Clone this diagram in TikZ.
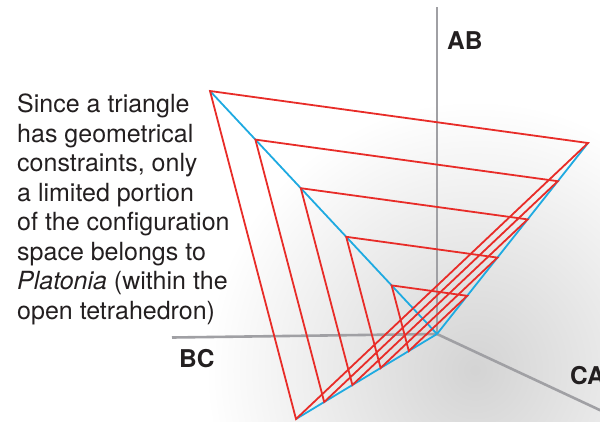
\documentclass[tikz,border=0pt]{standalone}
\usepackage{fontspec}
\setmainfont{TeX Gyre Heros}
\usetikzlibrary{calc}
\definecolor{redl}{RGB}{232,44,40}
\definecolor{bluel}{RGB}{30,170,225}
\definecolor{axisg}{RGB}{160,160,164}
\definecolor{txt}{RGB}{35,31,32}
\begin{document}
\begin{tikzpicture}[x=1pt,y=-1pt,
  axisline/.style={draw=axisg,line width=2.6pt},
  edgeline/.style={draw=bluel,line width=1.8pt},
  triline/.style={draw=redl,line width=1.8pt,line join=miter},
  axlabel/.style={text=txt,font=\fontsize{24.5}{28}\selectfont\bfseries,inner sep=0pt,anchor=base west}]
\useasboundingbox (0,0) rectangle (600,421);
\begin{scope}
\clip (0,0) rectangle (600,421);
\shade[inner color=black!17,outer color=white] (475,370) circle (270);
\end{scope}
\coordinate (O) at (437,334);
\coordinate (AB) at (437,7);
\coordinate (BC) at (172,337.5);
\coordinate (CA) at (604,412);
\draw[axisline] (AB) -- (O);
\draw[axisline] (BC) -- (O);
\draw[axisline] (O) -- (CA);
\node[axlabel] (lAB) at (447,49) {AB};
\node[axlabel] (lBC) at (179,367) {BC};
\node[axlabel] (lCA) at (570,384) {CA};
\coordinate (A) at (210,91);
\coordinate (R) at (588,143);
\coordinate (B) at (296,419);
\draw[edgeline] (O) -- (A);
\draw[edgeline] (O) -- (R);
\draw[edgeline] (O) -- (B);
\foreach \t/\n in {1/1,0.8/2,0.6/3,0.4/4,0.2/5}{
  \coordinate (A\n) at ($(O)!\t!(A)$);
  \coordinate (R\n) at ($(O)!\t!(R)$);
  \coordinate (B\n) at ($(O)!\t!(B)$);
  \draw[triline] (A\n) -- (R\n) -- (B\n) -- cycle;
}
\node[anchor=north west,inner sep=0pt,align=left,text=txt,
  font=\fontsize{25}{29.5}\selectfont] (caption) at (17,94)
  {Since a triangle\\has geometrical\\constraints, only\\a limited portion\\of the configuration\\space belongs to\\\textit{Platonia} (within the\\open tetrahedron)};
\end{tikzpicture}
\end{document}
